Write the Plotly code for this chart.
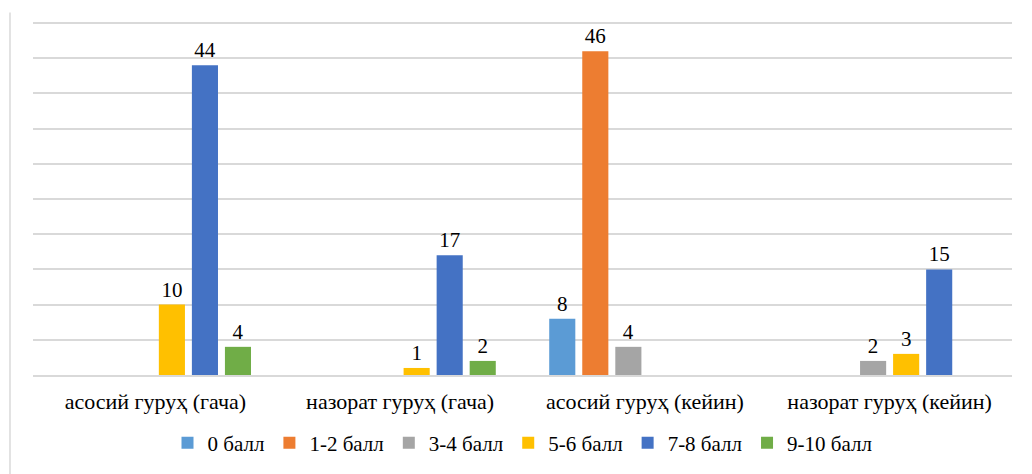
import plotly.graph_objects as go

categories = ["асосий гуруҳ (гача)", "назорат гуруҳ (гача)", "асосий гуруҳ (кейин)", "назорат гуруҳ (кейин)"]
series_names = ["0 балл", "1-2 балл", "3-4 балл", "5-6 балл", "7-8 балл", "9-10 балл"]
v_0 = [None, None, 8, None]
v_1_2 = [None, None, 46, None]
v_3_4 = [None, None, 4, 2]
v_5_6 = [10, 1, None, 3]
v_7_8 = [44, 17, None, 15]
v_9_10 = [4, 2, None, None]
series_values = [v_0, v_1_2, v_3_4, v_5_6, v_7_8, v_9_10]
colors = ["#5B9BD5", "#ED7D31", "#A5A5A5", "#FFC000", "#4472C4", "#70AD47"]

font = "Liberation Serif, DejaVu Serif, serif"

fig = go.Figure()
for name, vals, c in zip(series_names, series_values, colors):
    fig.add_trace(go.Bar(
        x=categories, y=vals, name=name, marker_color=c,
        marker_line_width=0,
        text=[("" if v is None else str(v)) for v in vals],
        textposition="outside", cliponaxis=False,
        textfont=dict(family=font, size=21, color="#000000"),
    ))

# page body adds an 8px offset; figure sized to compensate
fig.update_layout(
    width=1024, height=466,
    margin=dict(l=25, r=20, t=8, b=99, autoexpand=False),
    paper_bgcolor="white", plot_bgcolor="white",
    barmode="group", bargap=0.19, bargroupgap=0.21,
    font=dict(family=font, color="#000000"),
    showlegend=True,
    legend=dict(orientation="h", x=0.5, xanchor="center", y=-0.19, yanchor="middle",
                font=dict(family=font, size=21, color="#000000"),
                itemwidth=30, traceorder="normal"),
    xaxis=dict(showgrid=False, showline=True, linecolor="#D9D9D9", linewidth=1.5,
               tickfont=dict(family=font, size=22, color="#000000"), ticks="",
               ticklabelstandoff=6, automargin=False),
    yaxis=dict(range=[0, 51], tickvals=[0, 5, 10, 15, 20, 25, 30, 35, 40, 45, 50],
               showgrid=True, gridcolor="#D9D9D9", gridwidth=1.5,
               showticklabels=False, zeroline=False, showline=False, automargin=False),
    shapes=[dict(type="line", xref="paper", yref="paper", x0=-0.0235, x1=-0.0235,
                 y0=-0.3, y1=1.01, line=dict(color="#D9D9D9", width=1.5))],
)

fig.write_html("out.html")
